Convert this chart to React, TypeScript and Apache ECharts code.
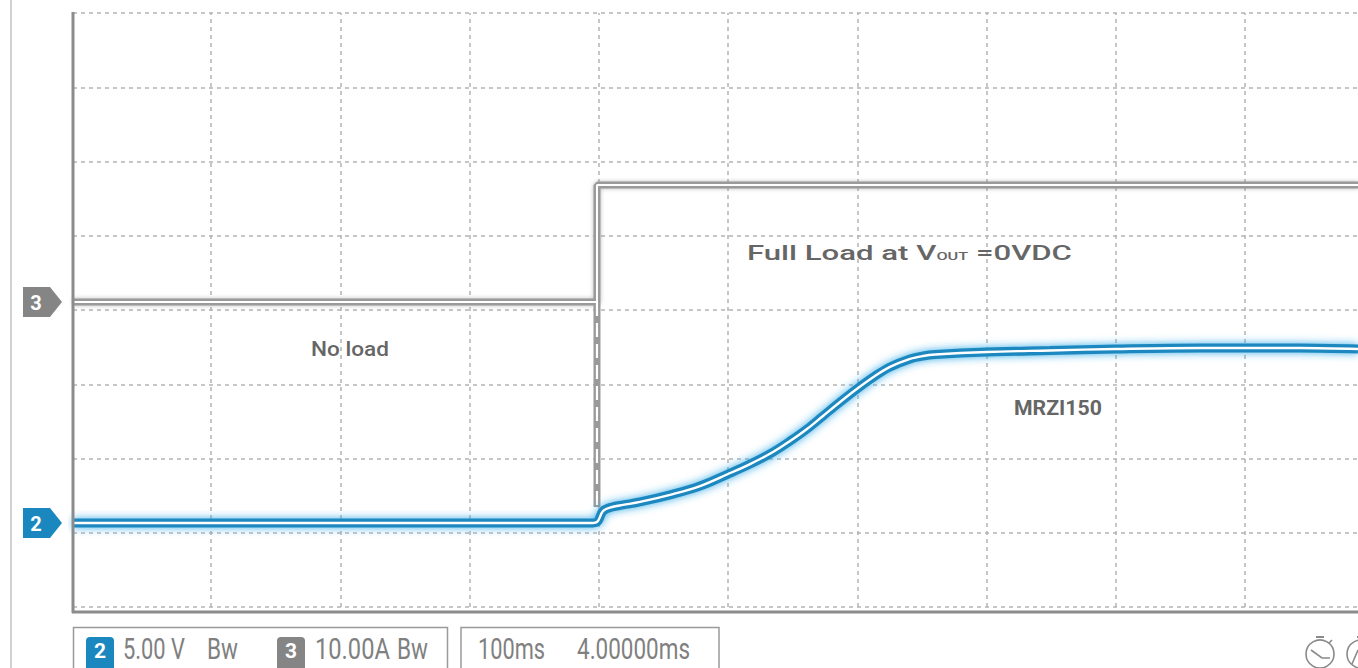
import React, { useEffect, useRef } from "react";
import * as echarts from "echarts";

// ---- axes: time in ms (100 ms/div), 0 ms on the first vertical grid line
const X_MIN = -106.8;
const X_MAX = 887.4;
const TIME_GRID = [0, 100, 200, 300, 400, 500, 600, 700, 800];

// ---- vertical: 8 divisions
const DIVS = 8;
const CH2_VOLTS_PER_DIV = 5;
const CH3_AMPS_PER_DIV = 10;
const CH2_ZERO_DIV = 1.131;
const CH3_ZERO_DIV = 4.108;

// ---- channel 2 : output voltage (V)
const ch2Time = [-106.8, 293.2, 298.6, 303.3, 310.3, 318.8, 331.9, 357.4, 378.3, 400, 417, 434.8, 448, 461.1, 473.5, 486.7, 500.6, 513.7, 525.3, 540.8, 550.9, 560.2, 600.4, 649.1, 700.2, 765.2, 800, 842.6, 887.4];
const ch2Volts = [0, 0, 0.07, 0.81, 1.08, 1.22, 1.42, 1.95, 2.49, 3.3, 3.97, 4.78, 5.52, 6.33, 7.21, 8.15, 9.09, 9.9, 10.51, 11.05, 11.25, 11.35, 11.52, 11.62, 11.72, 11.79, 11.79, 11.79, 11.72];

// ---- channel 3 : load current (A)
const ch3Time = [-106.8, 298.6, 298.6, 887.4];
const ch3Amps = [0, 0, 15.76, 15.76];
// persistence trace of the edge, below the low level
const ch3EdgeTime = [298.6, 298.6];
const ch3EdgeAmps = [0, -27.6];

// ---- texts
const LABEL_NO_LOAD = "No load";
const LABEL_MODEL = "MRZI150";
const LABEL_FULL_A = "Full Load at V";
const LABEL_FULL_SUB = "OUT";
const LABEL_FULL_B = " =0VDC";
const CH2_SCALE = "5.00 V";
const CH3_SCALE = "10.00A";
const BW = "Bw";
const TIMEBASE = "100ms";
const DELAY = "4.00000ms";

const FONT = "Roboto";
const BLUE = "#1a88bf";
const GREY_MARK = "#858585";
const TEXT_GREY = "#666666";
const LEGEND_GREY = "#808080";

let measureCtx: CanvasRenderingContext2D | null = null;
function measure(text: string, size: number, weight: number | string) {
  if (!measureCtx) measureCtx = document.createElement("canvas").getContext("2d");
  measureCtx!.font = `${weight} ${size}px ${FONT}`;
  return measureCtx!.measureText(text).width;
}

function fitText(text: string, x: number, y: number, size: number, weight: number | string, width: number, color: string) {
  const w = measure(text, size, weight);
  return {
    type: "text",
    x,
    y,
    scaleX: width / w,
    z: 20,
    silent: true,
    style: { text, fill: color, fontSize: size, fontWeight: weight, fontFamily: FONT, verticalAlign: "middle", align: "left" },
  };
}

function marker(label: string, y: number, color: string) {
  return {
    type: "group",
    z: 20,
    children: [
      {
        type: "polygon",
        shape: { points: [[23, y - 15], [50, y - 15], [62, y], [50, y + 15], [23, y + 15]] },
        style: { fill: color },
      },
      {
        type: "text",
        x: 36,
        y: y + 1,
        style: { text: label, fill: "#fff", fontSize: 20, fontWeight: 700, fontFamily: FONT, align: "center", verticalAlign: "middle" },
      },
    ],
  };
}

function badge(label: string, x: number, color: string) {
  return {
    type: "group",
    z: 20,
    children: [
      { type: "rect", shape: { x, y: 637, width: 28, height: 40, r: 4 }, style: { fill: color } },
      {
        type: "text",
        x: x + 14,
        y: 651,
        style: { text: label, fill: "#fff", fontSize: 21, fontWeight: 700, fontFamily: FONT, align: "center", verticalAlign: "middle" },
      },
    ],
  };
}

function buildGraphic(y2: number, y3: number) {
  const fullSize = 21;
  const subSize = 11;
  const wA = measure(LABEL_FULL_A, fullSize, 500);
  const wS = measure(LABEL_FULL_SUB, subSize, 500);
  const wB = measure(LABEL_FULL_B, fullSize, 500);
  const s = 325 / (wA + wS + wB);
  const fx = 747;
  const baseline = 260;
  const fullStyle = (text: string, size: number) => ({
    text,
    fill: TEXT_GREY,
    fontSize: size,
    fontWeight: 500,
    fontFamily: FONT,
    align: "left",
    verticalAlign: "middle",
  });
  return [
    // left page rule
    { type: "line", z: 15, shape: { x1: 11, y1: 0, x2: 11, y2: 668 }, style: { stroke: "#d2d2d2", lineWidth: 2 } },
    // plot frame
    { type: "line", z: 15, shape: { x1: 73, y1: 12, x2: 73, y2: 613 }, style: { stroke: "#8c8c8c", lineWidth: 3 } },
    { type: "line", z: 15, shape: { x1: 72, y1: 612, x2: 1358, y2: 612 }, style: { stroke: "#8c8c8c", lineWidth: 3 } },
    // channel markers
    marker("3", y3, GREY_MARK),
    marker("2", y2, BLUE),
    // annotations
    fitText(LABEL_NO_LOAD, 311, 349, 20, 500, 78, TEXT_GREY),
    fitText(LABEL_MODEL, 1014, 408, 20, 700, 88, TEXT_GREY),
    { type: "text", x: fx, y: baseline - 0.345 * fullSize, scaleX: s, z: 20, silent: true, style: fullStyle(LABEL_FULL_A, fullSize) },
    { type: "text", x: fx + wA * s, y: baseline - 0.345 * subSize, scaleX: s, z: 20, silent: true, style: fullStyle(LABEL_FULL_SUB, subSize) },
    { type: "text", x: fx + (wA + wS) * s, y: baseline - 0.345 * fullSize, scaleX: s, z: 20, silent: true, style: fullStyle(LABEL_FULL_B, fullSize) },
    // bottom legend boxes
    { type: "rect", z: 15, shape: { x: 73.5, y: 627.5, width: 374, height: 60 }, style: { fill: "none", stroke: "#9a9a9a", lineWidth: 1.5 } },
    { type: "rect", z: 15, shape: { x: 461, y: 627.5, width: 258, height: 60 }, style: { fill: "none", stroke: "#9a9a9a", lineWidth: 1.5 } },
    badge("2", 86, BLUE),
    fitText(CH2_SCALE, 123, 649, 29, 400, 62, LEGEND_GREY),
    fitText(BW, 207, 649, 29, 400, 31, LEGEND_GREY),
    badge("3", 277, GREY_MARK),
    fitText(CH3_SCALE, 315, 649, 29, 400, 75, LEGEND_GREY),
    fitText(BW, 397, 649, 29, 400, 31, LEGEND_GREY),
    fitText(TIMEBASE, 478, 649, 29, 400, 67, LEGEND_GREY),
    fitText(DELAY, 577, 649, 29, 400, 113, LEGEND_GREY),
    // stopwatch icons
    {
      type: "group",
      z: 20,
      children: [
        { type: "circle", shape: { cx: 1320, cy: 654, r: 14 }, style: { fill: "none", stroke: "#8a8a8a", lineWidth: 1.6 } },
        { type: "line", shape: { x1: 1316, y1: 637, x2: 1324, y2: 637 }, style: { stroke: "#8a8a8a", lineWidth: 2 } },
        { type: "line", shape: { x1: 1329, y1: 643, x2: 1332, y2: 640 }, style: { stroke: "#8a8a8a", lineWidth: 1.6 } },
        { type: "polyline", shape: { points: [[1311, 650], [1322, 658], [1330, 658]] }, style: { fill: "none", stroke: "#8a8a8a", lineWidth: 1.6 } },
        { type: "circle", shape: { cx: 1361, cy: 654, r: 14 }, style: { fill: "none", stroke: "#8a8a8a", lineWidth: 1.6 } },
        { type: "line", shape: { x1: 1357, y1: 637, x2: 1365, y2: 637 }, style: { stroke: "#8a8a8a", lineWidth: 2 } },
        { type: "polyline", shape: { points: [[1352, 664], [1358, 650]] }, style: { fill: "none", stroke: "#8a8a8a", lineWidth: 1.6 } },
      ],
    },
  ];
}

export default function App() {
  const ref = useRef<HTMLDivElement>(null);
  useEffect(() => {
    const el = ref.current!;
    const chart = echarts.init(el, undefined, { renderer: "svg" });
    const toDiv2 = (v: number) => CH2_ZERO_DIV + v / CH2_VOLTS_PER_DIV;
    const toDiv3 = (a: number) => CH3_ZERO_DIV + a / CH3_AMPS_PER_DIV;
    const ch2Data = ch2Time.map((t, i) => [t, toDiv2(ch2Volts[i])]);
    const ch3Data = ch3Time.map((t, i) => [t, toDiv3(ch3Amps[i])]);
    const ch3EdgeData = ch3EdgeTime.map((t, i) => [t, toDiv3(ch3EdgeAmps[i])]);

    const gridLine = { color: "#b4b4b4", width: 1.5, type: [4, 4] };

    chart.setOption({
      animation: false,
      backgroundColor: "#ffffff",
      grid: { left: 73, top: 13, width: 1285, height: 594, containLabel: false },
      xAxis: {
        type: "value",
        min: X_MIN,
        max: X_MAX,
        axisLine: { show: false },
        axisTick: { show: false },
        axisLabel: { show: false },
        splitLine: { show: false },
      },
      yAxis: {
        type: "value",
        min: 0,
        max: DIVS,
        interval: 1,
        axisLine: { show: false },
        axisTick: { show: false },
        axisLabel: { show: false },
        splitLine: { show: true, lineStyle: gridLine },
      },
      series: [
        {
          name: "ch3",
          type: "line",
          data: ch3Data,
          showSymbol: false,
          silent: true,
          z: 3,
          lineStyle: { color: "#9a9a9a", width: 7, shadowBlur: 4, shadowColor: "rgba(120,120,120,0.5)" },
          markLine: {
            silent: true,
            symbol: ["none", "none"],
            z: 1,
            label: { show: false },
            lineStyle: gridLine,
            data: TIME_GRID.map((t) => ({ xAxis: t })),
          },
        },
        {
          name: "ch3-edge",
          type: "line",
          data: ch3EdgeData,
          showSymbol: false,
          silent: true,
          z: 3,
          lineStyle: { color: "#9a9a9a", width: 7 },
        },
        {
          name: "ch3-edge-core",
          type: "line",
          data: ch3EdgeData,
          showSymbol: false,
          silent: true,
          z: 4,
          lineStyle: { color: "#ffffff", width: 2.2, type: [14, 7] },
        },
        {
          name: "ch3-core",
          type: "line",
          data: ch3Data,
          showSymbol: false,
          silent: true,
          z: 4,
          lineStyle: { color: "#ffffff", width: 2 },
        },
        {
          name: "ch2",
          type: "line",
          data: ch2Data,
          showSymbol: false,
          silent: true,
          smooth: 0.35,
          z: 5,
          lineStyle: { color: BLUE, width: 9, shadowBlur: 8, shadowColor: "rgba(40,165,230,0.9)" },
        },
        {
          name: "ch2-core",
          type: "line",
          data: ch2Data,
          showSymbol: false,
          silent: true,
          smooth: 0.35,
          z: 6,
          lineStyle: { color: "#ffffff", width: 2.4 },
        },
      ],
    });

    const y3 = chart.convertToPixel({ yAxisIndex: 0 }, CH3_ZERO_DIV) as number;
    const y2 = chart.convertToPixel({ yAxisIndex: 0 }, CH2_ZERO_DIV) as number;
    chart.setOption({ graphic: buildGraphic(y2, y3) });

    return () => chart.dispose();
  }, []);
  return <div ref={ref} style={{ position: "absolute", left: 0, top: 0, width: 1358, height: 668, background: "#fff" }} />;
}
